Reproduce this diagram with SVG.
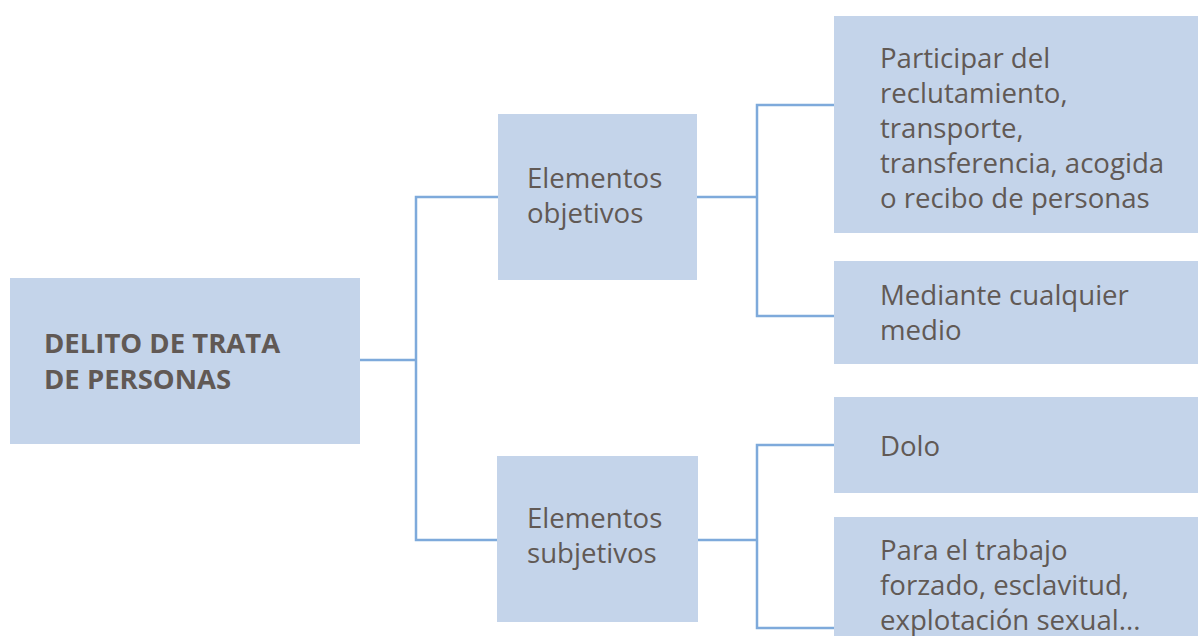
<svg xmlns="http://www.w3.org/2000/svg" width="1198" height="636" viewBox="0 0 1198 636">
  <style>
    .box { fill: #c4d4ea; }
    .lbl { font-family: "Open Sans", "Noto Sans", "Liberation Sans", sans-serif; font-size: 27.6px; fill: #615955; }
    .root { font-weight: bold; font-size: 27.5px; }
    .wire { fill: none; stroke: #7eaadb; stroke-width: 2.5; }
  </style>
  <rect width="1198" height="636" fill="#ffffff"/>

  <g id="connectors">
    <!-- root to first level -->
    <path class="wire" d="M360 360 H416 M498 197 H416 V540 H498"/>
    <!-- objective elements to their details -->
    <path class="wire" d="M697 197 H757 M834 105 H757 V316 H834"/>
    <!-- subjective elements to their details -->
    <path class="wire" d="M698 540 H757 M834 445 H757 V628 H834"/>
  </g>

  <g id="node-delito">
    <rect class="box" x="10" y="278" width="350" height="166"/>
    <text class="lbl root" x="44" y="353">DELITO DE TRATA<tspan x="44" dy="36">DE PERSONAS</tspan></text>
  </g>

  <g id="node-objetivos">
    <rect class="box" x="498" y="114" width="199" height="166"/>
    <text class="lbl" x="527" y="188">Elementos<tspan x="527" dy="35">objetivos</tspan></text>
  </g>

  <g id="node-subjetivos">
    <rect class="box" x="497" y="456" width="201" height="166"/>
    <text class="lbl" x="527" y="528">Elementos<tspan x="527" dy="35">subjetivos</tspan></text>
  </g>

  <g id="node-participar">
    <rect class="box" x="834" y="16" width="364" height="217"/>
    <text class="lbl" x="880" y="68">Participar del<tspan x="880" dy="35">reclutamiento,</tspan><tspan x="880" dy="35">transporte,</tspan><tspan x="880" dy="35">transferencia, acogida</tspan><tspan x="880" dy="35">o recibo de personas</tspan></text>
  </g>

  <g id="node-mediante">
    <rect class="box" x="834" y="261" width="364" height="103"/>
    <text class="lbl" x="880" y="305">Mediante cualquier<tspan x="880" dy="35">medio</tspan></text>
  </g>

  <g id="node-dolo">
    <rect class="box" x="834" y="397" width="364" height="96"/>
    <text class="lbl" x="880" y="456">Dolo</text>
  </g>

  <g id="node-fines">
    <rect class="box" x="834" y="517" width="364" height="119"/>
    <text class="lbl" x="880" y="560">Para el trabajo<tspan x="880" dy="35">forzado, esclavitud,</tspan><tspan x="880" dy="35">explotación sexual...</tspan></text>
  </g>
</svg>
